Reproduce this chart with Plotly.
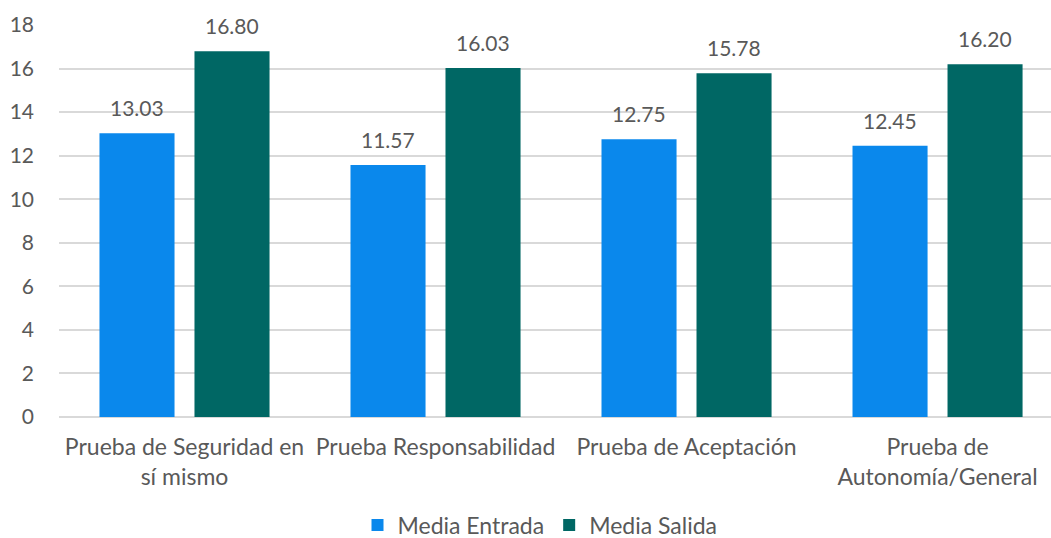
import plotly.graph_objects as go

categories = ["Prueba de Seguridad en<br>sí mismo", "Prueba Responsabilidad",
              "Prueba de Aceptación", "Prueba de<br>Autonomía/General"]
media_entrada = [13.03, 11.57, 12.75, 12.45]
media_salida = [16.80, 16.03, 15.78, 16.20]
y_ticks = [0, 2, 4, 6, 8, 10, 12, 14, 16, 18]

font_family = "Lato, 'Noto Sans', sans-serif"
gray = "#595959"
blue = "#0A88EC"
teal = "#006764"

fig = go.Figure()
fig.add_trace(go.Bar(name="Media Entrada", x=categories, y=media_entrada,
                     marker=dict(color=blue, line=dict(width=0))))
fig.add_trace(go.Bar(name="Media Salida", x=categories, y=media_salida,
                     marker=dict(color=teal, line=dict(width=0))))

annotations = []
for series, shift in ((media_entrada, -47.5), (media_salida, 47.5)):
    for cat, v in zip(categories, series):
        annotations.append(dict(x=cat, y=v, text=f"{v:.2f}", showarrow=False,
                                xshift=shift, yshift=11, yanchor="bottom",
                                font=dict(size=21, color=gray, family=font_family)))

fig.update_layout(
    width=1051, height=538,
    margin=dict(l=59, r=0, t=25, b=121),
    barmode="group", bargap=0.243, bargroupgap=0.21,
    plot_bgcolor="white", paper_bgcolor="white",
    font=dict(family=font_family, size=23, color=gray),
    legend=dict(orientation="h", xref="container", x=540 / 1051, xanchor="center",
                yref="container", y=(538 - 525) / 538, yanchor="middle",
                font=dict(size=23, color=gray), itemwidth=30),
    showlegend=True,
    annotations=annotations,
)
fig.update_yaxes(range=[0, 18], tickvals=y_ticks, showgrid=True, gridcolor="#d9d9d9",
                 gridwidth=1.5, zeroline=True, zerolinecolor="#d9d9d9", zerolinewidth=1.5,
                 tickfont=dict(size=21, color=gray), ticks="", ticklabelstandoff=24,
                 automargin=False)
fig.update_xaxes(range=[-0.5, 3.452], tickfont=dict(size=23, color=gray), showline=False,
                 ticks="", ticklabelstandoff=14, automargin=False)

fig.write_html("out.html", config={"displayModeBar": False},
               post_script="document.body.style.margin='0';")
